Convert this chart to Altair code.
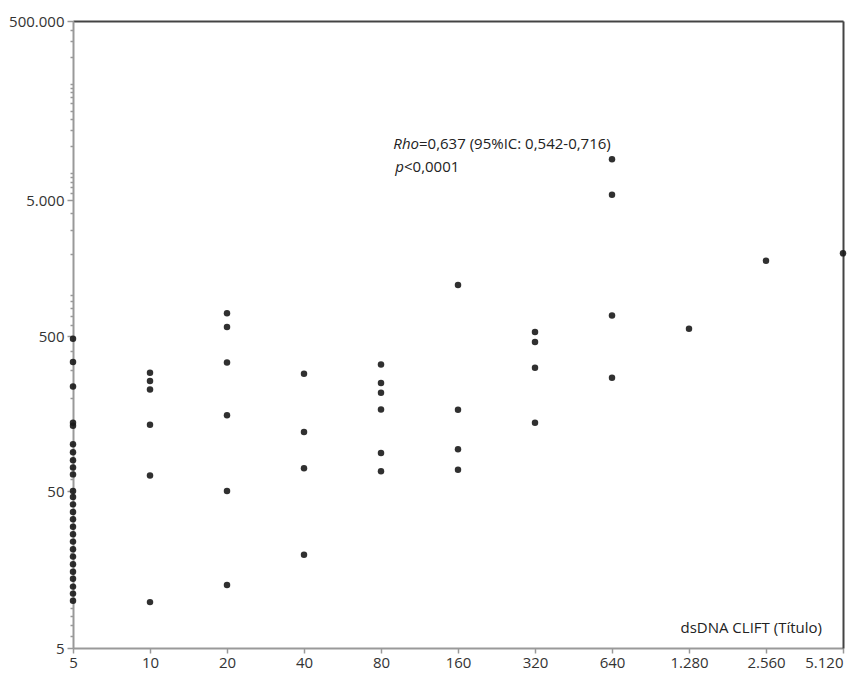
import altair as alt
import pandas as pd

# dsDNA CLIFT titre categories (x) and measured values (y) per titre
x_ticks = [5, 10, 20, 40, 80, 160, 320, 640, 1280, 2560, 5120]
y_major = [5, 50, 500, 5000, 500000]

col_5 = [480, 340, 236, 138, 132, 100, 89, 79, 71, 64, 50, 45.8, 41.1, 36.8, 33,
         29.6, 26.5, 23.8, 21.3, 19.1, 17.1, 15.3, 13.8, 12.3, 11.1, 10]
col_10 = [290, 256, 226, 134, 63, 9.8]
col_20 = [736, 582, 337, 154, 50, 12.6]
col_40 = [285, 120, 70, 19.6]
col_80 = [327, 249, 215, 168, 88, 67]
col_160 = [1184, 167, 93, 68.5]
col_320 = [535, 458, 312, 138]
col_640 = [14274, 5725, 708, 269]
col_1280 = [565]
col_2560 = [1785]
col_5120 = [2027]

columns = [col_5, col_10, col_20, col_40, col_80, col_160, col_320, col_640,
           col_1280, col_2560, col_5120]

rows = []
for xv, vals in zip(x_ticks, columns):
    for v in vals:
        rows.append({"titulo": xv, "valor": v})
df = pd.DataFrame(rows)

y_minor = [n * 10 ** k for k in range(0, 6) for n in range(1, 10)
           if 5 <= n * 10 ** k <= 500000 and n * 10 ** k not in y_major]

FONT = "Open Sans"
W, H = 770, 627

xscale = alt.Scale(type="log", base=2, domain=[5, 5120], range=[0, W], nice=False)
yscale = alt.Scale(type="log", domain=y_major, range=[H, 470, 315, 179, 0], nice=False)

label_expr = "replace(format(datum.value, ','), ',', '.')"

points = alt.Chart(df).mark_circle(size=42, color="#1a1a1a", opacity=0.9).encode(
    x=alt.X("titulo:Q", scale=xscale,
            axis=alt.Axis(values=x_ticks, labelExpr=label_expr, title=None, grid=False,
                          domainColor="#999", domainWidth=2, tickColor="#999",
                          tickSize=5, tickWidth=1.5, labelFont=FONT, labelFontSize=15,
                          labelColor="#333", labelPadding=2, labelFlush=False,
                          labelOverlap=False,
                          labelAlign={"condition": {"test": "datum.value >= 5120", "value": "right"},
                                      "value": "center"})),
    y=alt.Y("valor:Q", scale=yscale,
            axis=alt.Axis(values=y_major, labelExpr=label_expr, title=None, grid=False,
                          domainColor="#999", domainWidth=2, tickColor="#999",
                          tickSize=6, tickWidth=1.5, labelFont=FONT, labelFontSize=15,
                          labelColor="#333", labelPadding=3, labelFlush=False,
                          labelOverlap=False)),
)

minor = alt.Chart(df).mark_circle(opacity=0).encode(
    y=alt.Y("valor:Q", scale=yscale,
            axis=alt.Axis(values=y_minor, labels=False, title=None, grid=False,
                          orient="left", domain=False, tickColor="#999",
                          tickSize=3, tickWidth=1.5)),
)

frame = alt.Chart(df).mark_circle(opacity=0).encode(
    x=alt.X("titulo:Q", scale=xscale,
            axis=alt.Axis(orient="top", labels=False, ticks=False, grid=False, title=None,
                          domainColor="#444", domainWidth=2)),
    y=alt.Y("valor:Q", scale=yscale,
            axis=alt.Axis(orient="right", labels=False, ticks=False, grid=False, title=None,
                          domainColor="#444", domainWidth=2)),
)

def txt(s, x, y, align="left", italic=False):
    return alt.Chart(pd.DataFrame({"t": [s]})).mark_text(
        align=align, baseline="middle", font=FONT, fontSize=15, color="#222",
        fontStyle="italic" if italic else "normal",
    ).encode(x=alt.value(x), y=alt.value(y), text="t:N")

ann = [
    txt("Rho", 346, 123, align="right", italic=True),
    txt("=0,637 (95%IC: 0,542-0,716)", 346, 123),
    txt("p", 331, 146, align="right", italic=True),
    txt("<0,0001", 331, 146),
    txt("dsDNA CLIFT (Título)", 749, 607, align="right"),
]

chart = alt.layer(points, minor, frame, *ann).resolve_axis(
    x="independent", y="independent"
).properties(
    width=W, height=H,
    autosize=alt.AutoSizeParams(type="none"),
    padding={"left": 65, "top": 13, "right": 7, "bottom": 24},
).configure_view(stroke=None).configure(background="white")

chart.save("out.html", embed_options={"renderer": "svg", "actions": False})
